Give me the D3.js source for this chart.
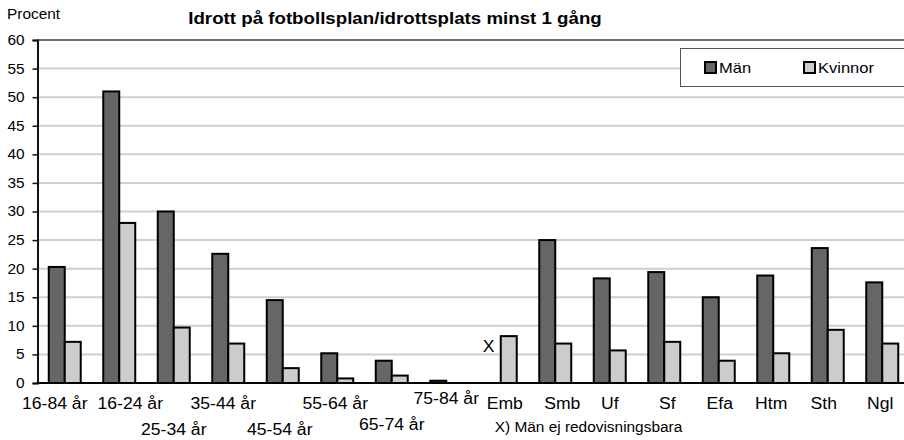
<!DOCTYPE html>
<html>
<head>
<meta charset="utf-8">
<script src="https://cdn.jsdelivr.net/npm/d3@7"></script>
<style>
  body { margin: 0; background: #fff; }
  svg text { font-family: Arial, "Liberation Sans", sans-serif; fill: #000; }
</style>
</head>
<body>
<div id="chart"></div>
<script>
// data
var categories = ["16-84 år", "16-24 år", "25-34 år", "35-44 år", "45-54 år", "55-64 år", "65-74 år", "75-84 år",
  "Emb", "Smb", "Uf", "Sf", "Efa", "Htm", "Sth", "Ngl"];
var man = [20.3, 51.0, 30.0, 22.6, 14.5, 5.2, 3.9, 0.4, null, 25.0, 18.3, 19.4, 15.0, 18.8, 23.6, 17.6];
var kvinnor = [7.2, 28.0, 9.7, 6.9, 2.6, 0.8, 1.3, null, 8.2, 6.9, 5.7, 7.2, 3.9, 5.2, 9.3, 6.9];
var seriesNames = ["Män", "Kvinnor"];
var yTicks = [0, 5, 10, 15, 20, 25, 30, 35, 40, 45, 50, 55, 60];

var title = "Idrott på fotbollsplan/idrottsplats minst 1 gång";
var yTitle = "Procent";
var note = "X) Män ej redovisningsbara";
var missingCat = "Emb";

// layout
var svgWidth = 904, svgHeight = 440;
var plot = { left: 37.5, right: 909.5, top: 40, bottom: 383 };
var colors = { "Män": "#666666", "Kvinnor": "#cccccc" };
// staggered label rows as in the original (baseline y, x shift)
var labelRow = [409, 409, 435, 409, 435, 409, 430, 404, 409, 409, 409, 409, 409, 409, 409, 409];
var labelShift = [-10, 11, 0, -5, -3, -2, 0, 0, 4, 7, 0, 3, 1, -2, -4, -2];
var stretch = 1.1;

var svg = d3.select("#chart").append("svg")
  .attr("width", svgWidth)
  .attr("height", svgHeight);

var x0 = d3.scaleBand()
  .domain(categories)
  .range([plot.left, plot.right])
  .paddingInner(0.413)
  .paddingOuter(0.2065);

var x1 = d3.scaleBand()
  .domain(seriesNames)
  .range([0, x0.bandwidth()]);

var y = d3.scaleLinear()
  .domain([0, 60])
  .range([plot.bottom, plot.top]);

// gridlines
svg.append("g")
  .selectAll("line")
  .data(yTicks.filter(d => d > 0 && d < 60))
  .enter().append("line")
  .attr("x1", plot.left).attr("x2", svgWidth)
  .attr("y1", d => y(d)).attr("y2", d => y(d))
  .attr("stroke", "#cfcfcf")
  .attr("stroke-width", 2);

// top border of plot area
svg.append("line")
  .attr("x1", plot.left).attr("x2", svgWidth)
  .attr("y1", y(60)).attr("y2", y(60))
  .attr("stroke", "#6e6e6e")
  .attr("stroke-width", 2);

// bars
var rows = categories.map(function(c, i) {
  return { cat: c, values: [{ key: "Män", v: man[i] }, { key: "Kvinnor", v: kvinnor[i] }] };
});

var groups = svg.append("g").selectAll("g")
  .data(rows)
  .enter().append("g")
  .attr("transform", d => `translate(${x0(d.cat)},0)`);

groups.selectAll("rect")
  .data(d => d.values.filter(v => v.v != null))
  .enter().append("rect")
  .attr("x", d => x1(d.key))
  .attr("width", x1.bandwidth())
  .attr("y", d => y(d.v))
  .attr("height", d => y(0) - y(d.v))
  .attr("fill", d => colors[d.key])
  .attr("stroke", "#000")
  .attr("stroke-width", 2);

// y axis
var yAxis = svg.append("g")
  .attr("transform", `translate(${plot.left},0)`)
  .call(d3.axisLeft(y).tickValues(yTicks).tickSize(5).tickPadding(8));
yAxis.select(".domain").attr("stroke", "#111").attr("stroke-width", 2);
yAxis.selectAll(".tick line").attr("stroke", "#111").attr("stroke-width", 1.5);
yAxis.selectAll(".tick text")
  .attr("font-size", "14px")
  .attr("font-family", "Arial, 'Liberation Sans', sans-serif");

// x axis line
svg.append("line")
  .attr("x1", plot.left - 1).attr("x2", svgWidth)
  .attr("y1", y(0)).attr("y2", y(0))
  .attr("stroke", "#000")
  .attr("stroke-width", 2);

// category labels
svg.append("g").selectAll("text")
  .data(categories)
  .enter().append("text")
  .attr("x", (d, i) => x0(d) + x0.bandwidth() / 2 + labelShift[i])
  .attr("y", (d, i) => labelRow[i])
  .attr("text-anchor", "middle")
  .attr("font-size", "16px")
  .text(d => d);

// X marker for missing men value
svg.append("text")
  .attr("x", x0(missingCat) + x1("Män") + x1.bandwidth() / 2 - 4)
  .attr("y", y(5) - 2)
  .attr("text-anchor", "middle")
  .attr("font-size", "16px")
  .text("X");

// footnote
svg.append("text")
  .attr("x", x0(missingCat) + 10)
  .attr("y", 432)
  .attr("font-size", "14px")
  .text(note);

// titles
svg.append("text")
  .attr("x", 395)
  .attr("y", 24)
  .attr("text-anchor", "middle")
  .attr("font-size", "17px")
  .attr("font-weight", "bold")
  .text(title);

svg.append("text")
  .attr("x", 7)
  .attr("y", 19)
  .attr("font-size", "14px")
  .text(yTitle);

// legend
var legend = svg.append("g");
legend.append("rect")
  .attr("x", 680.5).attr("y", 48.5)
  .attr("width", 240).attr("height", 38)
  .attr("fill", "#fff")
  .attr("stroke", "#555")
  .attr("stroke-width", 1);

var legendX = [705, 804];
seriesNames.forEach(function(s, i) {
  legend.append("rect")
    .attr("x", legendX[i]).attr("y", 62)
    .attr("width", 11).attr("height", 11)
    .attr("fill", colors[s])
    .attr("stroke", "#000")
    .attr("stroke-width", 2);
  legend.append("text")
    .attr("x", legendX[i] + 14)
    .attr("y", 73)
    .attr("font-size", "15px")
    .text(s);
});

// the original text is a bit wider than Arial
svg.selectAll("text").each(function() {
  var len = this.getComputedTextLength();
  d3.select(this)
    .attr("textLength", len * stretch)
    .attr("lengthAdjust", "spacingAndGlyphs");
});
</script>
</body>
</html>
